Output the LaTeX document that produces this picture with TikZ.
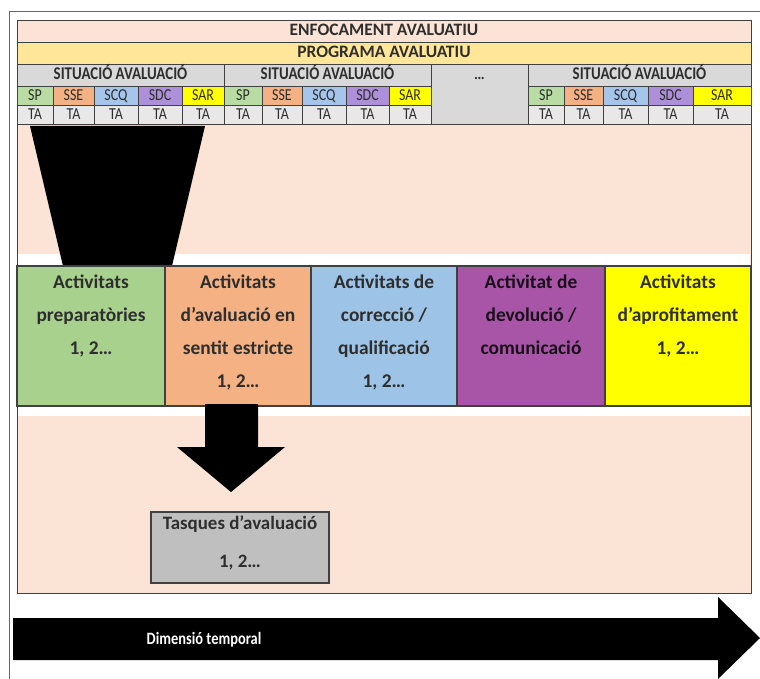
\documentclass[tikz,border=0pt]{standalone}
\usepackage{fontspec}
\usepackage{graphicx}
\setmainfont{Carlito}
\definecolor{lnc}{HTML}{404040}
\definecolor{txt}{HTML}{2E2E2E}
\definecolor{pinkp}{HTML}{FBE4D5}
\definecolor{progy}{HTML}{FFE699}
\definecolor{sitg}{HTML}{D9D9D9}
\definecolor{tag}{HTML}{E9E8E8}
\definecolor{cSP}{HTML}{B8DCA3}
\definecolor{cSSE}{HTML}{F4B183}
\definecolor{cSCQ}{HTML}{A6C5EA}
\definecolor{cSDC}{HTML}{AE8FDA}
\definecolor{cSAR}{HTML}{FFFF00}
\definecolor{aG}{HTML}{A9D18E}
\definecolor{aO}{HTML}{F4B183}
\definecolor{aB}{HTML}{9DC3E6}
\definecolor{aP}{HTML}{A855A8}
\definecolor{aY}{HTML}{FFFF00}
\definecolor{tasg}{HTML}{BFBFBF}
\newcommand\bx[8]{%
  \draw[ln,fill=#6] (#2,#3) rectangle (#4,#5);
  \node[#7] (#1) at ({(#2+#4)/2},{(#3+#5)/2}) {#8};}
\newcommand\vs[1]{\scalebox{1}[1.2]{#1}}
\begin{document}
\begin{tikzpicture}[x=1bp,y=-1bp,
  ln/.style={draw=lnc, line width=1bp},
  hdr/.style={font=\bfseries\fontsize{17.5}{17.5}\selectfont, text=txt, inner sep=0, text height=0.62em, text depth=0pt},
  sit/.style={font=\bfseries\fontsize{15}{15}\selectfont, text=txt, inner sep=0, text height=0.77em, text depth=0pt},
  sm/.style={font=\fontsize{14}{14}\selectfont, text=txt, inner sep=0, text height=0.77em, text depth=0pt},
  act/.style={font=\bfseries\fontsize{19.5}{33}\selectfont, text=txt, align=center, anchor=north, inner sep=0},
  tas/.style={font=\bfseries\fontsize{19}{38}\selectfont, text=txt, align=center, anchor=north, inner sep=0},
]
\useasboundingbox (0,0) rectangle (760,679);
% outer frame
\draw[draw=lnc!80, line width=1bp] (9,679) -- (9,12) -- (760,12);
% panel
\draw[ln, fill=pinkp] (17,21) rectangle (751,593);
% white bands
\fill[white] (18,254) rectangle (750,266);
\fill[white] (18,406) rectangle (750,416);
% header rows
\bx{enf}{17}{21}{751}{43}{pinkp}{hdr}{ENFOCAMENT AVALUATIU}
\bx{prog}{17}{43}{751}{65}{progy}{hdr}{PROGRAMA AVALUATIU}
% situation blocks
\foreach \b/\xa/\xb/\xc/\xd/\xe/\xf in {1/17/53/94/138/182/224, 2/224/262/302/346/389/431, 3/528/564/603/648/693/751} {
  \bx{sit\b}{\xa}{65}{\xf}{87}{sitg}{sit}{\vs{SITUACIÓ AVALUACIÓ}}
  \bx{sp\b}{\xa}{87}{\xb}{106}{cSP}{sm}{\vs{SP}}
  \bx{sse\b}{\xb}{87}{\xc}{106}{cSSE}{sm}{\vs{SSE}}
  \bx{scq\b}{\xc}{87}{\xd}{106}{cSCQ}{sm}{\vs{SCQ}}
  \bx{sdc\b}{\xd}{87}{\xe}{106}{cSDC}{sm}{\vs{SDC}}
  \bx{sar\b}{\xe}{87}{\xf}{106}{cSAR}{sm}{\vs{SAR}}
  \bx{taa\b}{\xa}{106}{\xb}{125}{tag}{sm}{\vs{TA}}
  \bx{tab\b}{\xb}{106}{\xc}{125}{tag}{sm}{\vs{TA}}
  \bx{tac\b}{\xc}{106}{\xd}{125}{tag}{sm}{\vs{TA}}
  \bx{tad\b}{\xd}{106}{\xe}{125}{tag}{sm}{\vs{TA}}
  \bx{tae\b}{\xe}{106}{\xf}{125}{tag}{sm}{\vs{TA}}
}
\draw[ln, fill=sitg] (431,65) rectangle (528,125);
\node[sit] (dots) at (479.5,76) {…};
% funnel
\fill[black] (30,126) -- (205,126) -- (172,266) -- (63,266) -- cycle;
% activity boxes
\draw[line width=1.3bp, draw=lnc, fill=aG] (17,266) rectangle (165,406);
\draw[line width=1.3bp, draw=lnc, fill=aO] (165,266) rectangle (311,406);
\draw[line width=1.3bp, draw=lnc, fill=aB] (311,266) rectangle (457,406);
\draw[line width=1.3bp, draw=lnc, fill=aP] (457,266) rectangle (605,406);
\draw[line width=1.3bp, draw=lnc, fill=aY] (605,266) rectangle (751,406);
\node[act] (a1) at (91,275) {Activitats\\preparatòries\\1, 2…};
\node[act] (a2) at (238,275) {Activitats\\d’avaluació en\\sentit estricte\\1, 2…};
\node[act] (a3) at (384,275) {Activitats de\\correcció /\\qualificació\\1, 2…};
\node[act, text=black!85!aP] (a4) at (531,275) {Activitat de\\devolució /\\comunicació};
\node[act] (a5) at (678,275) {Activitats\\d’aprofitament\\1, 2…};
% down arrow
\fill[black] (205,404) -- (258,404) -- (258,447) -- (285,447) -- (231,492) -- (177,447) -- (205,447) -- cycle;
% tasques
\draw[line width=1.3bp, draw=lnc, fill=tasg] (151,512) rectangle (329,583);
\node[tas] (tasq) at (240,516) {Tasques d’avaluació\\1, 2…};
% time arrow
\fill[black] (13,618) -- (718,618) -- (718,597) -- (760,638) -- (718,679) -- (718,660) -- (13,660) -- cycle;
\node[font=\bfseries\fontsize{14.5}{14.5}\selectfont, text=white, inner sep=0] (temps) at (204,640) {\scalebox{1}[1.2]{Dimensió temporal}};
\end{tikzpicture}
\end{document}
